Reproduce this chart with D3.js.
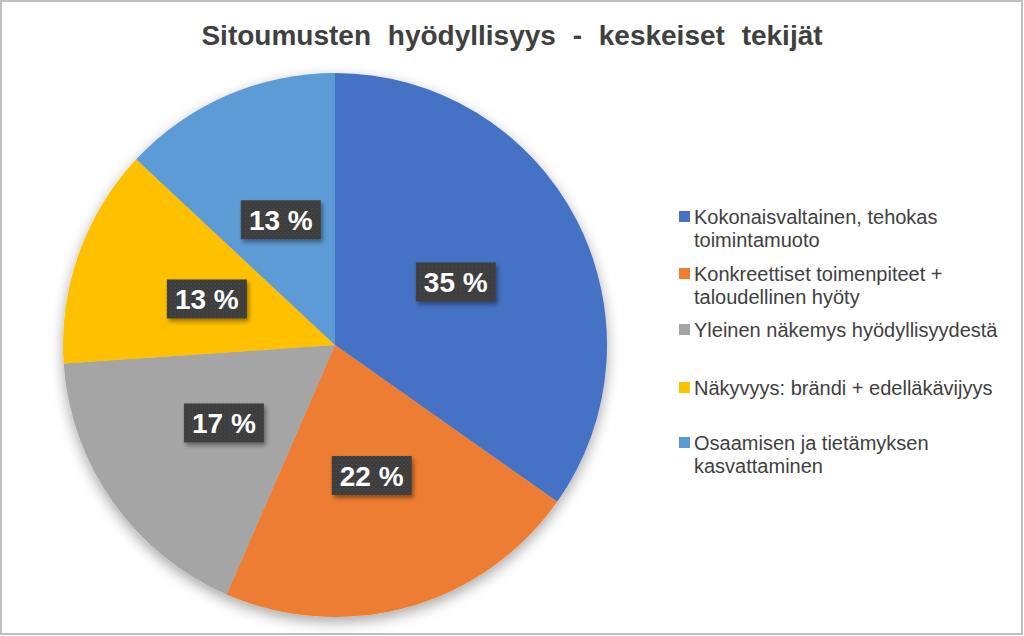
<!DOCTYPE html>
<html><head><meta charset="utf-8">
<script src="https://cdn.jsdelivr.net/npm/d3@7"></script>
<style>body{margin:0;background:#fff}svg{display:block}</style>
</head><body>
<svg id="c" width="1024" height="636"></svg>
<script>
const title = "Sitoumusten hyödyllisyys - keskeiset tekijät";
const categories = [
  ["Kokonaisvaltainen, tehokas", "toimintamuoto"],
  ["Konkreettiset toimenpiteet +", "taloudellinen hyöty"],
  ["Yleinen näkemys hyödyllisyydestä"],
  ["Näkyvyys: brändi + edelläkävijyys"],
  ["Osaamisen ja tietämyksen", "kasvattaminen"]
];
const values = [8, 5, 4, 3, 3];
const colors = ["#4472C4", "#ED7D31", "#A5A5A5", "#FFC000", "#5B9BD5"];
const legendY = [217, 274, 330, 388, 443];

const svg = d3.select("#c");
const defs = svg.append("defs");
const sh = defs.append("filter").attr("id","pieShadow").attr("x","-20%").attr("y","-20%").attr("width","140%").attr("height","140%");
sh.append("feDropShadow").attr("dx",0).attr("dy",5).attr("stdDeviation",7).attr("flood-color","#000").attr("flood-opacity",0.35);
const bs = defs.append("filter").attr("id","boxShadow").attr("x","-30%").attr("y","-30%").attr("width","160%").attr("height","160%");
bs.append("feDropShadow").attr("dx",2).attr("dy",3).attr("stdDeviation",2).attr("flood-color","#000").attr("flood-opacity",0.4);
const pat = defs.append("pattern").attr("id","dots").attr("width",4).attr("height",4).attr("patternUnits","userSpaceOnUse");
pat.append("rect").attr("width",4).attr("height",4).attr("fill","#3d3d3d");
pat.append("rect").attr("x",0).attr("y",0).attr("width",1).attr("height",1).attr("fill","#555");
pat.append("rect").attr("x",2).attr("y",2).attr("width",1).attr("height",1).attr("fill","#4a4a4a");

svg.append("rect").attr("x",1).attr("y",1).attr("width",1021).attr("height",633)
  .attr("fill","#fff").attr("stroke","#BFBFBF").attr("stroke-width",2);

svg.append("text").attr("x",512).attr("y",45).attr("text-anchor","middle")
  .attr("font-family","Liberation Sans, Arial, sans-serif").attr("font-weight","bold")
  .attr("font-size",28).attr("fill","#404040").attr("word-spacing",9).text(title);

const cx = 335, cy = 345, r = 272;
const total = d3.sum(values);
const pie = d3.pie().sort(null).value(d => d)(values);
const arc = d3.arc().innerRadius(0).outerRadius(r);
const g = svg.append("g").attr("transform",`translate(${cx},${cy})`);
g.append("g").attr("filter","url(#pieShadow)").selectAll("path").data(pie).join("path")
  .attr("d",arc).attr("fill",(d,i)=>colors[i]);

const labelArc = d3.arc().innerRadius(r*0.5).outerRadius(r*0.5);
const lbl = g.selectAll("g.lbl").data(pie).join("g").attr("class","lbl")
  .attr("transform",d=>`translate(${labelArc.centroid(d)})`);
lbl.append("rect").attr("x",-40).attr("y",-20).attr("width",80).attr("height",39)
  .attr("fill","url(#dots)").attr("filter","url(#boxShadow)");
lbl.append("text").attr("text-anchor","middle").attr("y",10)
  .attr("font-family","Liberation Sans, Arial, sans-serif").attr("font-weight","bold")
  .attr("font-size",28).attr("fill","#fff")
  .text(d=>Math.round(d.value/total*100)+" %");

const leg = svg.append("g");
categories.forEach((lines,i)=>{
  const y = legendY[i];
  leg.append("rect").attr("x",679).attr("y",y-6).attr("width",11).attr("height",11).attr("fill",colors[i]);
  const t = leg.append("text").attr("x",694).attr("y",y+7)
    .attr("font-family","Liberation Sans, Arial, sans-serif").attr("font-size",20).attr("fill","#404040");
  lines.forEach((ln,j)=>t.append("tspan").attr("x",694).attr("dy",j?23:0).text(ln));
});
</script>
</body></html>
